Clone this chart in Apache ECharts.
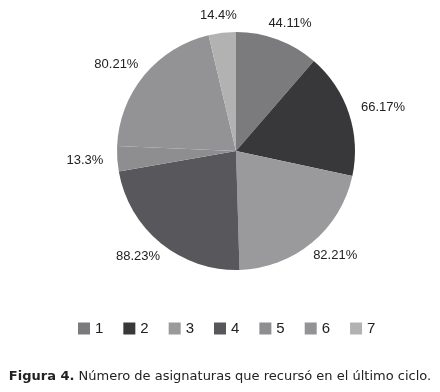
<!DOCTYPE html>
<html>
<head>
<meta charset="utf-8">
<script src="https://cdn.jsdelivr.net/npm/echarts@6/dist/echarts.min.js"></script>
<style>
  html, body { margin: 0; padding: 0; background: #fff; }
  #chart { width: 440px; height: 392px; }
</style>
</head>
<body>
<div id="chart"></div>
<script>
// 类别与数值
const categories = ['1', '2', '3', '4', '5', '6', '7'];
const values = [44.11, 66.17, 82.21, 88.23, 13.3, 80.21, 14.4];
const colors = ['#7b7b7d', '#38383a', '#9a9a9c', '#58585c', '#8e8e90', '#939395', '#b2b2b2'];

const chart = echarts.init(document.getElementById('chart'));

const pieData = categories.map(function (c, i) {
  return { name: c, value: values[i] };
});

// 每个扇区中线角度（从正上方顺时针）
const total = values.reduce(function (a, b) { return a + b; }, 0);
const midAngles = [];
let cum = 0;
values.forEach(function (v) {
  midAngles.push((cum + v / 2) / total * Math.PI * 2);
  cum += v;
});

const option = {
  animation: false,
  color: colors,
  title: {
    text: '{b|Figura 4.} Número de asignaturas que recursó en el último ciclo.',
    left: 'center',
    top: 365,
    textStyle: {
      fontFamily: 'DejaVu Sans',
      fontSize: 13,
      fontWeight: 'normal',
      color: '#222',
      rich: {
        b: { fontFamily: 'DejaVu Sans', fontSize: 13, fontWeight: 'bold', color: '#222' }
      }
    }
  },
  legend: {
    data: categories,
    bottom: 51,
    left: 73,
    itemWidth: 12,
    itemHeight: 12,
    itemGap: 20,
    icon: 'rect',
    textStyle: { fontFamily: 'Liberation Sans', fontSize: 15, color: '#222' }
  },
  series: [{
    type: 'pie',
    center: [236, 151],
    radius: 119,
    startAngle: 90,
    clockwise: true,
    label: { show: false },
    labelLine: { show: false },
    itemStyle: { borderWidth: 0 },
    data: pieData
  }, {
    // 透明外环，只用来放标签（类似 Excel 的“数据标签外”）
    type: 'pie',
    center: [236, 151],
    radius: [125, 135],
    startAngle: 90,
    clockwise: true,
    silent: true,
    label: {
      show: true,
      position: 'inside',
      formatter: function (p) { return p.value + '%'; },
      fontFamily: 'Liberation Sans',
      fontSize: 13,
      color: '#222'
    },
    labelLine: { show: false },
    labelLayout: function (params) {
      const a = midAngles[params.dataIndex];
      const r = params.labelRect;
      return {
        dx: Math.sin(a) * r.width / 2,
        dy: -Math.cos(a) * r.height / 4
      };
    },
    itemStyle: { color: 'rgba(0,0,0,0)', borderWidth: 0 },
    emphasis: { disabled: true },
    data: pieData
  }]
};

chart.setOption(option);
</script>
</body>
</html>
